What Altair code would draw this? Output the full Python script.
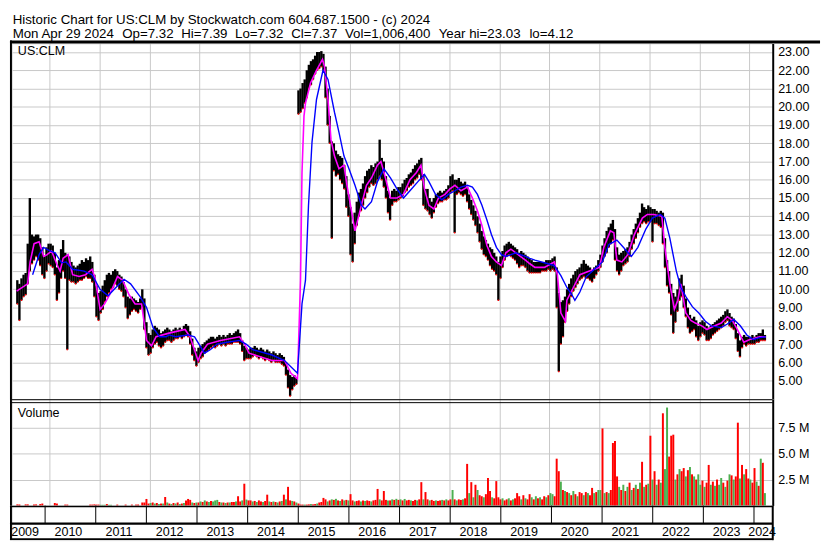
import altair as alt
import pandas as pd

FONT = "Liberation Sans"
FS = 12.7
HFS = 13.5
W = 772
H1, H2, H3 = 361, 108, 35
X0, X1 = 2009.345, 2024.37
GRID = "#c8c8c8"
RED = "#ff0000"
GREEN = "#4caf50"

header1 = "Historic Chart for US:CLM by Stockwatch.com 604.687.1500 - (c) 2024"
header2_items = ["Mon Apr 29 2024", "Op=7.32", "Hi=7.39", "Lo=7.32", "Cl=7.37",
                 "Vol=1,006,400", "Year hi=23.03", "lo=4.12"]
symbol = "US:CLM"

# ---- half-month price ranges (May 2009 .. Apr 2024) ----
hi_2009 = [10.5,10.3,10.6,10.8,10.9,12.5,15.0,13.0,12.9,13.0,13.0,12.8,12.3,11.8,12.3,12.5]
lo_2009 = [9.2,8.3,9.4,9.6,9.7,10.3,11.0,11.4,11.6,11.8,11.6,11.3,10.8,10.6,11.0,11.4]
hi_2010 = [12.5,12.4,12.0,11.2,11.6,12.2,12.7,12.0,11.9,11.8,11.5,11.3,11.2,11.3,11.4,11.6,11.5,11.7,11.6,11.8,11.5,10.8,10.2,9.8]
lo_2010 = [11.3,11.2,10.8,9.4,9.8,10.6,11.0,10.6,6.7,10.5,10.4,10.4,10.3,10.4,10.5,10.5,10.6,10.7,10.6,10.6,10.4,9.6,8.5,8.3]
hi_2011 = [9.9,10.2,10.5,10.8,10.9,10.8,11.0,11.1,11.0,10.8,10.7,10.4,10.0,9.6,9.5,9.6,9.5,9.4,9.3,9.5,10.0,9.5,8.2,7.6]
lo_2011 = [8.7,8.9,9.3,9.6,9.8,10.0,10.1,10.3,10.2,10.0,9.9,9.6,9.0,8.4,8.6,8.8,8.9,8.8,8.7,8.9,9.0,7.8,6.8,6.4]
hi_2012 = [7.5,7.8,8.0,7.9,7.8,7.6,7.7,7.8,7.9,7.8,7.7,7.8,7.9,7.8,7.9,7.8,8.0,8.1,8.0,7.7,7.3,6.8,6.6,6.8]
lo_2012 = [6.5,6.8,7.0,7.1,6.9,6.8,6.9,7.1,7.2,7.2,7.1,7.2,7.3,7.3,7.4,7.3,7.4,7.5,7.4,7.0,6.4,6.1,5.8,6.0]
hi_2013 = [6.9,7.0,7.1,7.2,7.3,7.4,7.4,7.3,7.4,7.5,7.4,7.5,7.4,7.5,7.6,7.5,7.6,7.7,7.8,7.6,7.2,6.9,6.8,6.7]
lo_2013 = [6.2,6.3,6.5,6.6,6.7,6.8,6.9,6.8,6.9,7.0,6.9,7.0,6.9,7.0,7.0,7.0,7.1,7.1,7.1,7.0,6.6,6.1,6.2,6.2]
hi_2014 = [6.8,6.8,6.9,6.8,6.7,6.8,6.7,6.6,6.7,6.6,6.5,6.6,6.5,6.4,6.5,6.4,6.3,6.0,5.6,5.3,5.2,5.3,5.2,20.9]
lo_2014 = [6.2,6.3,6.4,6.3,6.2,6.3,6.2,6.1,6.2,6.1,6.0,6.1,6.0,6.0,6.0,5.9,5.8,5.3,4.6,4.15,4.5,4.7,4.8,19.6]
hi_2015 = [21.0,21.3,21.5,22.0,22.3,22.5,22.6,22.8,23.0,23.0,23.05,22.9,22.2,21.0,19.5,18.1,18.0,17.6,17.4,17.3,17.2,16.8,16.2,15.2]
lo_2015 = [19.7,19.9,20.2,20.5,21.0,21.2,21.5,21.8,22.0,22.1,22.2,22.0,20.5,19.0,18.0,12.8,16.5,16.2,16.3,16.0,15.8,15.5,14.5,14.0]
hi_2016 = [14.5,13.6,14.2,14.8,15.3,15.5,15.8,16.2,16.5,16.6,16.8,16.7,16.9,17.0,18.2,17.2,17.0,16.2,15.4,15.0,15.4,15.5,15.4,15.6]
lo_2016 = [11.9,11.5,12.5,13.5,14.0,14.3,14.6,15.0,15.3,15.6,15.8,15.7,15.8,16.0,16.2,16.0,15.6,15.0,14.2,13.8,14.6,14.8,14.8,14.9]
hi_2017 = [15.6,15.8,16.0,16.1,16.3,16.4,16.6,16.8,16.9,17.1,17.2,16.3,15.5,15.5,15.0,14.8,15.0,15.2,15.3,15.4,15.3,15.4,15.5,15.7]
lo_2017 = [15.0,15.1,15.3,15.4,15.6,15.7,15.8,16.0,16.1,16.3,16.0,14.6,14.4,14.3,14.1,13.9,14.2,14.5,14.7,14.8,14.8,14.9,14.9,15.0]
hi_2018 = [16.2,16.3,16.0,16.0,16.1,15.9,15.8,15.9,15.6,15.2,14.9,14.6,14.3,14.0,13.6,13.2,12.9,12.7,12.5,12.3,12.2,12.0,11.8,11.5]
lo_2018 = [15.3,15.4,13.1,15.2,15.3,15.2,15.1,15.2,14.8,14.4,14.1,13.8,13.5,13.1,12.6,12.2,11.9,11.8,11.6,11.3,11.1,11.0,10.8,9.4]
hi_2019 = [11.8,12.1,12.4,12.5,12.6,12.5,12.4,12.3,12.2,12.0,12.1,12.0,11.9,11.8,11.7,11.6,11.5,11.5,11.5,11.5,11.5,11.5,11.6,11.6]
lo_2019 = [10.6,11.2,11.6,11.8,11.9,11.8,11.7,11.6,11.4,11.2,11.3,11.3,11.2,11.0,10.9,10.9,10.9,10.9,10.9,10.9,11.0,11.0,11.0,11.1]
hi_2020 = [11.6,11.7,11.8,11.2,9.8,9.3,9.4,9.6,10.0,10.3,10.6,10.8,11.0,11.1,11.2,11.4,11.6,11.4,11.3,11.2,11.0,11.2,11.3,11.6]
lo_2020 = [11.0,11.1,11.0,9.0,5.5,7.0,7.4,8.2,8.8,9.2,9.6,9.9,10.1,10.3,10.5,10.6,10.7,10.6,10.6,10.5,10.4,10.6,10.8,11.0]
hi_2021 = [11.9,12.4,12.8,13.2,13.4,13.6,13.8,13.3,12.3,11.9,12.0,12.1,12.2,12.3,12.6,13.0,13.3,13.6,13.9,14.2,14.7,14.5,14.4,14.6]
lo_2021 = [11.2,11.5,11.8,12.0,12.3,12.5,12.7,11.6,11.0,10.8,11.0,11.3,11.4,11.5,11.8,12.2,12.5,12.8,13.1,13.4,13.6,13.7,13.6,13.7]
hi_2022 = [14.5,14.4,14.4,14.3,14.2,14.3,14.2,12.8,11.6,11.0,10.3,9.8,9.6,10.0,10.6,10.8,10.2,9.5,9.0,8.6,8.4,8.5,8.3,8.0]
lo_2022 = [13.7,12.6,13.6,13.6,13.5,13.4,12.5,11.2,10.2,9.8,8.6,7.6,8.2,8.8,9.4,9.6,9.0,8.5,7.9,7.6,7.7,7.8,7.4,7.2]
hi_2023 = [8.2,8.3,8.2,8.0,7.9,8.0,8.1,8.2,8.3,8.4,8.5,8.6,8.8,8.9,8.7,8.5,8.4,8.1,7.6,7.2,7.4,7.5,7.4,7.4]
lo_2023 = [7.4,7.6,7.5,7.2,7.2,7.3,7.5,7.6,7.7,7.8,7.9,8.0,8.2,8.3,8.0,7.9,7.8,7.3,6.6,6.3,6.8,7.0,6.9,7.0]
hi_2024 = [7.4,7.5,7.4,7.5,7.6,7.6,7.8,7.5]
lo_2024 = [7.0,7.0,7.0,7.1,7.1,7.2,7.2,7.2]

# ---- half-month volume (millions) and up/down colour ----
vol_2009 = [0.12,0.12,0,0,0.12,0.12,0,0,0.12,0.12,0,0.15,0.2,0,0,0]
vol_2010 = [0,0,0.25,0.2,0,0,0,0.1,0.1,0,0,0,0,0,0,0,0,0,0,0.1,0.1,0.12,0.1,0.1]
vol_2011 = [0.08,0.08,0.08,0.15,0.08,0.08,0,0,0.1,0,0,0,0.1,0,0,0.1,0,0.1,0.1,0,0.3,0.3,0.64,0.2]
vol_2012 = [0.25,0.3,0.2,0.25,0.15,0.2,0.2,0.83,0.3,0.2,0.15,0.25,0.2,0.3,0.15,0.2,0.25,0.5,0.64,0.55,0.3,0.25,0.3,0.3]
vol_2013 = [0.4,0.35,0.5,0.4,0.35,0.45,0.4,0.5,0.55,0.35,0.3,0.3,0.25,0.3,0.3,0.35,0.35,0.4,0.9,0.4,0.5,2.1,0.58,0.5]
vol_2014 = [0.5,0.4,0.45,0.35,0.5,0.4,0.35,0.45,1.05,0.4,0.35,0.4,0.35,0.3,0.4,0.45,1.05,0.6,1.8,0.5,0.45,0.4,0.3,0.2]
vol_2015 = [0.1,0.1,0.1,0.1,0.12,0.15,0.12,0.15,0.2,0.3,0.35,0.74,0.6,0.4,0.5,0.6,0.55,0.65,0.5,0.45,0.6,0.5,0.55,0.5]
vol_2016 = [1.1,0.5,0.4,0.45,0.5,0.4,0.5,0.45,0.5,0.45,0.4,0.5,0.55,1.6,0.6,0.5,1.4,0.55,0.5,0.5,0.6,0.55,0.65,0.55]
vol_2017 = [0.6,0.5,0.64,0.5,0.55,0.5,0.45,0.55,0.5,0.6,2.25,0.6,1.3,0.6,0.5,0.55,0.45,0.5,0.45,0.5,0.55,0.5,0.6,0.5]
vol_2018 = [0.6,1.5,0.6,0.5,0.6,0.55,0.6,0.7,4.0,1.2,2.25,0.8,2.0,1.5,1.0,0.9,0.8,1.1,2.65,1.4,0.8,0.7,2.35,0.8]
vol_2019 = [0.6,0.7,0.5,0.6,0.7,0.5,0.6,0.7,1.2,0.9,0.6,1.0,0.7,0.6,1.1,0.8,0.6,0.9,0.7,0.8,0.6,0.9,0.8,1.0]
vol_2020 = [1.2,1.1,0.9,4.5,3.3,2.3,1.5,1.4,1.3,1.2,1.0,1.4,1.1,0.9,1.3,1.2,1.0,1.3,1.2,1.0,1.7,1.2,1.3,1.5]
vol_2021 = [1.5,7.4,1.2,1.3,1.2,1.5,6.0,6.2,2.8,1.8,1.5,2.0,1.4,1.8,2.2,1.5,1.7,2.0,1.6,2.2,4.2,1.8,2.0,2.1]
vol_2022 = [6.7,2.5,3.3,2.0,2.5,2.2,8.85,3.5,9.4,4.7,6.7,6.8,2.5,3.0,3.5,3.3,3.6,2.8,3.4,3.7,3.0,2.8,2.5,3.0]
vol_2023 = [2.0,2.4,1.8,2.2,3.9,2.0,2.3,1.9,2.5,2.0,2.65,2.2,1.8,2.4,3.0,2.9,2.5,2.8,7.95,2.6,3.9,3.0,3.5,2.6]
vol_2024 = [2.5,2.2,3.6,2.3,1.9,4.5,4.1,1.2]

col_2009 = "rrrrrrrrrrrrrrrr"
col_2010 = "rrrrrrrrrrrrrrrrrrrrrrrr"
col_2011 = "gggrggrrrrrrrrrrrrrrrrrr"
col_2012 = "grgrgrgrgrgrgrgrgrrrgrgr"
col_2013 = "grgrgrgggrgrgrgrrgrrgrgr"
col_2014 = "rgrgrrgrrgrgrgrgrgrrgrgr"
col_2015 = "rrgrrgrrgrrrrgrgrgrgrgrg"
col_2016 = "rrgrrgrgrrgrrrgrrrgrgrgr"
col_2017 = "grgrrgrrgrrgrrgrrgrrgrgr"
col_2018 = "rgrgrrgrrgrgrgrrgrrrgrrr"
col_2019 = "rgrrgrgrrrgrgrrgrgrgrrgr"
col_2020 = "ggrrrgrgrgrgrgrrgrgrrgrg"
col_2021 = "grgrgrrrrgrgrgrgrgrgrgrg"
col_2022 = "rgrgrgrggrrrgrgrrgrgrgrg"
col_2023 = "grgrrgrgrggrgrgrgrrgrgrr"
col_2024 = "grrgrgrg"

# ---- moving averages (fractional year, price) ----
mag_t = [2009.34,2009.56,2009.61,2009.69,2009.79,2009.88,2009.95,2010.04,2010.14,2010.21,2010.27,2010.37,
         2010.46,2010.59,2010.72,2010.85,2010.91,2011.01,2011.10,2011.20,2011.36,2011.46,2011.59,2011.71,
         2011.84,2011.94,2012.04,2012.13,2012.39,2012.71,2012.81,2012.97,2013.03,2013.16,2013.42,2013.80,
         2013.90,2013.99,2014.45,2014.70,2014.83,2014.96,2015.02,2015.05,2015.09,2015.12,2015.22,2015.34,
         2015.46,2015.50,2015.57,2015.63,2015.70,2015.79,2015.89,2015.95,2016.02,2016.11,2016.21,2016.34,
         2016.44,2016.56,2016.63,2016.72,2016.82,2016.95,2017.08,2017.21,2017.34,2017.43,2017.50,2017.59,
         2017.69,2017.78,2017.91,2018.01,2018.11,2018.23,2018.36,2018.46,2018.56,2018.65,2018.75,2018.84,
         2018.94,2019.04,2019.13,2019.23,2019.33,2019.42,2019.52,2019.61,2019.71,2019.90,2020.10,2020.16,
         2020.23,2020.32,2020.35,2020.48,2020.61,2020.80,2021.00,2021.09,2021.22,2021.29,2021.35,2021.45,
         2021.57,2021.70,2021.86,2021.96,2022.09,2022.25,2022.31,2022.41,2022.50,2022.57,2022.63,2022.73,
         2022.83,2022.92,2023.05,2023.15,2023.31,2023.44,2023.56,2023.66,2023.76,2023.89,2024.01,2024.21,2024.33]
mag_v = [9.9,10.3,11.5,12.5,12.6,11.8,11.9,12.1,11.4,11.0,11.7,11.9,
         10.8,10.7,10.8,11.1,10.6,8.9,9.2,9.7,10.7,10.5,9.7,9.2,
         9.2,7.2,6.9,7.4,7.6,7.8,7.4,6.1,6.5,7.0,7.2,7.4,
         7.0,6.5,6.1,6.1,5.4,5.1,10.5,16.4,19.5,20.2,21.3,22.0,
         22.6,22.2,20.4,18.2,17.3,16.6,16.8,15.7,14.6,13.2,14.3,15.7,
         16.1,16.8,17.0,16.1,15.0,15.0,15.2,16.0,16.4,16.8,15.5,14.6,
         14.4,15.0,15.2,15.5,15.7,15.4,15.6,15.0,14.3,13.5,12.4,11.8,
         11.5,11.3,12.0,12.2,12.0,11.8,11.6,11.4,11.2,11.2,11.5,10.8,
         8.7,8.25,9.4,10.1,10.8,11.0,11.2,12.3,13.2,13.1,11.6,11.5,
         11.9,13.0,13.9,14.1,14.1,14.0,12.3,10.3,8.9,9.4,10.3,8.7,
         8.3,8.15,8.0,7.8,8.0,8.15,8.5,8.3,7.8,7.1,7.25,7.4,7.4]

blu_t = [2009.66,2009.79,2009.88,2010.01,2010.11,2010.24,2010.33,2010.46,2010.69,2010.85,2011.01,2011.17,
         2011.36,2011.49,2011.62,2011.81,2011.94,2012.07,2012.20,2012.33,2012.39,2012.52,2012.77,2012.90,
         2013.10,2013.22,2013.35,2013.55,2013.80,2013.93,2014.06,2014.45,2014.70,2014.96,2015.05,2015.12,
         2015.18,2015.25,2015.34,2015.47,2015.57,2015.70,2015.79,2015.89,2015.99,2016.11,2016.24,2016.31,
         2016.44,2016.56,2016.69,2016.82,2016.95,2017.08,2017.21,2017.37,2017.50,2017.59,2017.72,2017.85,
         2017.98,2018.11,2018.23,2018.36,2018.46,2018.56,2018.65,2018.75,2018.84,2018.94,2019.04,2019.13,
         2019.23,2019.33,2019.42,2019.52,2019.61,2019.71,2019.97,2020.10,2020.23,2020.35,2020.45,2020.51,
         2020.61,2020.74,2020.90,2021.06,2021.19,2021.35,2021.48,2021.64,2021.77,2021.93,2022.06,2022.22,
         2022.31,2022.41,2022.54,2022.63,2022.73,2022.86,2022.99,2023.12,2023.24,2023.44,2023.56,2023.69,
         2023.82,2023.95,2024.08,2024.21,2024.33]
blu_v = [10.8,11.9,12.3,12.1,12.0,11.45,11.5,11.1,11.0,10.8,10.0,9.65,
         10.2,10.55,10.3,9.6,9.0,7.9,7.4,7.4,7.5,7.4,7.5,7.4,
         6.5,6.7,7.0,7.1,7.2,7.0,6.7,6.4,6.1,5.4,9.2,10.5,
         14.6,18.05,20.4,22.0,21.5,19.7,18.6,17.3,16.6,15.7,14.6,14.4,
         14.8,15.9,16.6,16.1,15.5,15.0,15.4,15.9,16.3,15.9,15.2,14.9,
         15.2,15.4,15.6,15.7,15.6,15.2,14.6,13.8,13.0,12.3,11.9,11.8,
         11.9,12.0,11.9,11.8,11.7,11.6,11.4,11.3,10.75,10.1,9.7,9.4,
         9.85,10.7,11.1,11.5,12.45,12.7,12.3,11.8,12.3,13.3,13.9,14.1,
         13.9,12.8,11.0,10.1,9.6,9.05,8.7,8.25,8.0,7.9,8.1,8.35,
         8.0,7.5,7.25,7.35,7.4]

years = list(range(2010, 2025))
label_txt = [str(y) for y in range(2009, 2025)]
label_t = [2009.605] + [y + 0.46 for y in range(2010, 2024)] + [2024.16]
price_ticks = list(range(5, 24))
vol_ticks = [2.5, 5.0, 7.5]

hi = (hi_2009 + hi_2010 + hi_2011 + hi_2012 + hi_2013 + hi_2014 + hi_2015 + hi_2016 +
      hi_2017 + hi_2018 + hi_2019 + hi_2020 + hi_2021 + hi_2022 + hi_2023 + hi_2024)
lo = (lo_2009 + lo_2010 + lo_2011 + lo_2012 + lo_2013 + lo_2014 + lo_2015 + lo_2016 +
      lo_2017 + lo_2018 + lo_2019 + lo_2020 + lo_2021 + lo_2022 + lo_2023 + lo_2024)
vol = (vol_2009 + vol_2010 + vol_2011 + vol_2012 + vol_2013 + vol_2014 + vol_2015 + vol_2016 +
       vol_2017 + vol_2018 + vol_2019 + vol_2020 + vol_2021 + vol_2022 + vol_2023 + vol_2024)
col = list(col_2009 + col_2010 + col_2011 + col_2012 + col_2013 + col_2014 + col_2015 + col_2016 +
           col_2017 + col_2018 + col_2019 + col_2020 + col_2021 + col_2022 + col_2023 + col_2024)

start = 2009 + 8 / 24  # first half-month bucket: May 2009
t_price = [start + (i + 0.5) / 24 for i in range(len(hi))]
t_vol = [start + (i + 0.5) / 24 for i in range(len(vol))]

price_df = pd.DataFrame({"t": t_price, "hi": hi, "lo": lo})
vol_df = pd.DataFrame({"t": t_vol, "vol": vol, "col": col[:len(vol)]})
mag_df = pd.DataFrame({"t": mag_t, "v": mag_v})
blu_df = pd.DataFrame({"t": blu_t, "v": blu_v})
years_df = pd.DataFrame({"t": years})
labels_df = pd.DataFrame({"t": label_t, "lab": label_txt})
one = pd.DataFrame({"a": [0]})

xs = alt.Scale(domain=[X0, X1], nice=False, zero=False)
xgrid = alt.Axis(values=years, grid=True, gridColor=GRID, gridWidth=1, labels=False,
                 ticks=False, domain=False, title=None)
ps = alt.Scale(domain=[3.98, 23.47], nice=False, zero=False)
paxis = alt.Axis(orient="right", values=price_ticks, format=".2f", grid=True, gridColor=GRID,
                 gridWidth=1, ticks=False, domainColor="black", domainWidth=2, labelPadding=5,
                 labelBaseline="middle", labelAlign="left", labelOverlap=False, labelFlush=False,
                 labelFont=FONT, labelFontSize=FS, labelColor="black", title=None)
vs = alt.Scale(domain=[0, 10.2], nice=False, zero=True)
vaxis = alt.Axis(orient="right", values=vol_ticks, labelExpr="format(datum.value, '.1f') + ' M'",
                 grid=True, gridColor=GRID, gridWidth=1, ticks=False, domainColor="black",
                 domainWidth=2, labelPadding=5, labelBaseline="middle", labelAlign="left",
                 labelOverlap=False, labelFlush=False, labelFont=FONT, labelFontSize=FS,
                 labelColor="black", title=None)

X = alt.X("t:Q", scale=xs, axis=xgrid)

def txt(s, x, y, baseline="alphabetic", align="left", size=FS):
    return alt.Chart(one).mark_text(font=FONT, fontSize=size, color="black", align=align,
                                    baseline=baseline).encode(
        x=alt.value(x), y=alt.value(y), text=alt.value(s))

def rule(x, x2, y, y2, w=1):
    return alt.Chart(one).mark_rule(color="black", strokeWidth=w).encode(
        x=alt.value(x), x2=alt.value(x2), y=alt.value(y), y2=alt.value(y2))

# header layout: items of the second line spaced like the original
h2_x = [0.7, 111.9, 171.8, 226.4, 283.3, 337.9, 433.0, 525.1]
header_layers = [txt(header1, 0.7, -31, baseline="top", size=HFS)]
header_layers += [txt(s, x, -17, baseline="top", size=HFS) for s, x in zip(header2_items, h2_x)]

# ---- price panel ----
bars = alt.Chart(price_df).mark_bar(size=2.4, color="black").encode(
    x=X, y=alt.Y("lo:Q", scale=ps, axis=paxis), y2="hi:Q")
red_lo = alt.Chart(price_df).mark_square(size=2.2, color=RED, opacity=1).encode(
    x=X, y=alt.Y("lo:Q", scale=ps, axis=paxis))
mag = alt.Chart(mag_df).mark_line(color="#ff00ff", strokeWidth=1.6).encode(
    x=X, y=alt.Y("v:Q", scale=ps, axis=paxis))
blu = alt.Chart(blu_df).mark_line(color="#0000ff", strokeWidth=1.4).encode(
    x=X, y=alt.Y("v:Q", scale=ps, axis=paxis))

price = alt.layer(
    bars, red_lo, mag, blu,
    txt(symbol, 6, 12),
    *header_layers,
    rule(-2, W + 48, -1.5, -1.5, 3),
    rule(-1, -1, -3, H1, 2),
).properties(width=W, height=H1)

# ---- volume panel ----
vbars = alt.Chart(vol_df).mark_bar(size=2.0).encode(
    x=X, y=alt.Y("vol:Q", scale=vs, axis=vaxis),
    color=alt.Color("col:N", scale=alt.Scale(domain=["r", "g"], range=[RED, GREEN]), legend=None))
volume = alt.layer(
    vbars,
    txt("Volume", 6, 18.5),
    rule(-2, W, 0.5, 0.5, 1),
    rule(-2, W, 3.5, 3.5, 1),
    rule(-1, -1, 0, H2, 2),
).properties(width=W, height=H2)

# ---- year band ----
seps = alt.Chart(years_df).mark_rule(color="black", strokeWidth=1).encode(
    x=alt.X("t:Q", scale=xs, axis=None), y=alt.value(0), y2=alt.value(18))
labs = alt.Chart(labels_df).mark_text(font=FONT, fontSize=FS, color="black", align="center",
                                      baseline="middle").encode(
    x=alt.X("t:Q", scale=xs, axis=None), y=alt.value(26.5), text="lab:N")
band = alt.layer(
    seps, labs,
    rule(-2, W, 0.8, 0.8, 1.6),
    rule(-2, W, 18.2, 18.2, 2.3),
    rule(-2, W, 34, 34, 2),
    rule(-1, -1, 0, H3, 2),
    rule(W, W, 0, H3, 2),
).properties(width=W, height=H3)

chart = alt.vconcat(price, volume, band, spacing=0, bounds="flush").properties(
    padding=0).configure_view(stroke="transparent").configure(font=FONT)

chart.save("out.html", embed_options={"renderer": "svg", "actions": False})
